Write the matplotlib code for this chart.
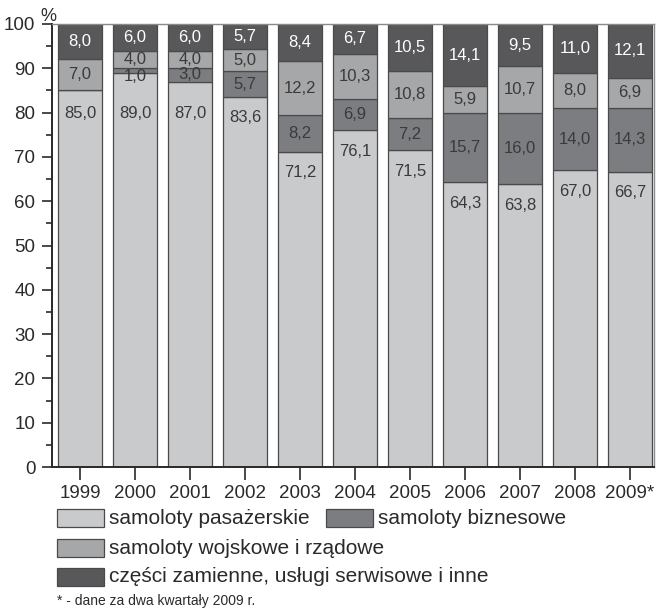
import matplotlib
matplotlib.use("Agg")
import matplotlib.pyplot as plt
from matplotlib.patches import Rectangle
from matplotlib.ticker import MultipleLocator

plt.rcParams['font.family'] = ['Liberation Sans', 'DejaVu Sans']

years = ["1999", "2000", "2001", "2002", "2003", "2004", "2005",
         "2006", "2007", "2008", "2009*"]
pasazerskie = [85.0, 89.0, 87.0, 83.6, 71.2, 76.1, 71.5, 64.3, 63.8, 67.0, 66.7]
biznesowe = [0.0, 1.0, 3.0, 5.7, 8.2, 6.9, 7.2, 15.7, 16.0, 14.0, 14.3]
wojskowe = [7.0, 4.0, 4.0, 5.0, 12.2, 10.3, 10.8, 5.9, 10.7, 8.0, 6.9]
czesci = [8.0, 6.0, 6.0, 5.7, 8.4, 6.7, 10.5, 14.1, 9.5, 11.0, 12.1]

series_names = ["samoloty pasażerskie", "samoloty biznesowe",
                "samoloty wojskowe i rządowe",
                "części zamienne, usługi serwisowe i inne"]
colors = ["#c9cacc", "#7c7d80", "#a6a7a9", "#58585b"]
text_colors = ["#3a3a3a", "#3a3a3a", "#3a3a3a", "#ffffff"]
edge = "#4a4a4a"

fig = plt.figure(figsize=(6.56, 6.13), dpi=100)
ax = fig.add_axes([52 / 656, 1 - 467 / 613, (654 - 52) / 656, (467 - 24) / 613])

x = list(range(len(years)))
width = 0.8
bottom = [0.0] * len(years)
for vals, col, tcol in zip([pasazerskie, biznesowe, wojskowe, czesci],
                           colors, text_colors):
    ax.bar(x, vals, width, bottom=bottom, color=col, edgecolor=edge,
           linewidth=0.9, zorder=2)
    for i, v in enumerate(vals):
        if v <= 0:
            continue
        if vals is pasazerskie:
            y = min(v - 4.8, 79.8)
        elif v < 2:
            # very thin segment: nudge the label down a little
            y = bottom[i] + v / 2 - 1.3
        else:
            y = bottom[i] + v / 2
        label = f"{v:.1f}".replace(".", ",")
        ax.text(x[i], y, label, ha="center", va="center", fontsize=12,
                color=tcol, zorder=3)
    bottom = [b + v for b, v in zip(bottom, vals)]

ax.set_ylim(0, 100)
ax.set_xlim(-0.51, 10.44)
ax.set_xticks(x)
ax.set_xticklabels(years)
ax.yaxis.set_major_locator(MultipleLocator(10))
ax.yaxis.set_minor_locator(MultipleLocator(5))
ax.tick_params(axis="y", which="major", direction="out", length=7, width=1.2,
               labelsize=13.5, pad=5, colors="#2a2a2a")
ax.tick_params(axis="y", which="minor", direction="out", length=4, width=1.2,
               colors="#2a2a2a")
ax.tick_params(axis="x", direction="out", length=9, width=1.2, labelsize=13.5,
               pad=4, colors="#2a2a2a")

for side in ["left", "bottom"]:
    ax.spines[side].set_color("#2a2a2a")
    ax.spines[side].set_linewidth(1.4)
for side in ["top", "right"]:
    ax.spines[side].set_color("#8a8a8a")
    ax.spines[side].set_linewidth(1.0)

ax.text(-0.02, 0.998, "%", transform=ax.transAxes, fontsize=13,
        color="#2a2a2a", ha="left", va="bottom")

# Legend drawn in figure pixels
def legend_item(px, py, name, col):
    fig.add_artist(Rectangle((px / 656, 1 - (py + 9) / 613), 47 / 656, 18 / 613,
                             transform=fig.transFigure, facecolor=col,
                             edgecolor=edge, linewidth=0.9))
    fig.text((px + 52) / 656, 1 - py / 613, name, fontsize=15,
             color="#2a2a2a", ha="left", va="center")

legend_item(57, 518, series_names[0], colors[0])
legend_item(326, 518, series_names[1], colors[1])
legend_item(57, 548, series_names[2], colors[2])
legend_item(57, 577, series_names[3], colors[3])

fig.text(57 / 656, 1 - 601 / 613, "* - dane za dwa kwartały 2009 r.",
         fontsize=10, color="#2a2a2a", ha="left", va="center")

fig.savefig("out.png", dpi=100)
